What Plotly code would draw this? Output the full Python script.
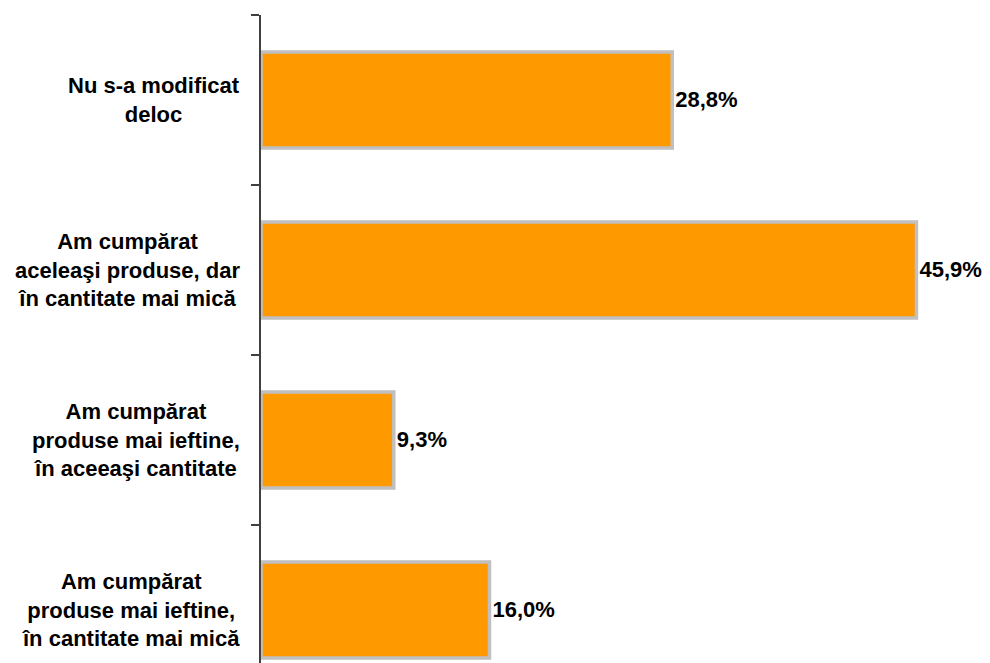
import plotly.graph_objects as go

categories = [
    "Nu s-a modificat<br>deloc",
    "Am cumpărat<br>aceleaşi produse, dar<br>în cantitate mai mică",
    "Am cumpărat<br>produse mai ieftine,<br>în aceeaşi cantitate",
    "Am cumpărat<br>produse mai ieftine,<br>în cantitate mai mică",
]
values = [28.8, 45.9, 9.3, 16.0]

FONT = "Liberation Sans, Arial, sans-serif"

fig = go.Figure()
fig.add_trace(go.Bar(
    x=values,
    y=categories,
    orientation="h",
    width=0.565,
    marker=dict(color="#FF9900", line=dict(color="#C0C0C0", width=3.5)),
    texttemplate="%{x:.1f}%",
    textposition="outside",
    textfont=dict(family=FONT, size=22, color="#000000", weight="bold"),
    constraintext="none",
    cliponaxis=False,
    hoverinfo="skip",
))

for c in categories:
    fig.add_annotation(
        x=-0.026, xref="paper", y=c, yref="y",
        text=c, showarrow=False,
        xanchor="right", yanchor="middle", align="center",
        font=dict(family=FONT, size=22, color="#000000", weight="bold"),
    )

fig.update_layout(
    width=990, height=663,
    margin=dict(l=261, r=15, t=15, b=0),
    paper_bgcolor="white", plot_bgcolor="white",
    separators=",.",
    showlegend=False,
    bargap=0.435,
    xaxis=dict(range=[0, 50], showgrid=False, zeroline=False,
               showline=False, showticklabels=False, ticks=""),
    yaxis=dict(type="category", categoryorder="array", categoryarray=categories,
               range=[3.312, -0.5], showgrid=False, zeroline=False,
               showline=True, linecolor="#404040", linewidth=1.5,
               ticks="outside", ticklen=8, tickcolor="#404040", tickwidth=1.5,
               tickson="boundaries", showticklabels=False),
)

fig.write_html("out.html")
